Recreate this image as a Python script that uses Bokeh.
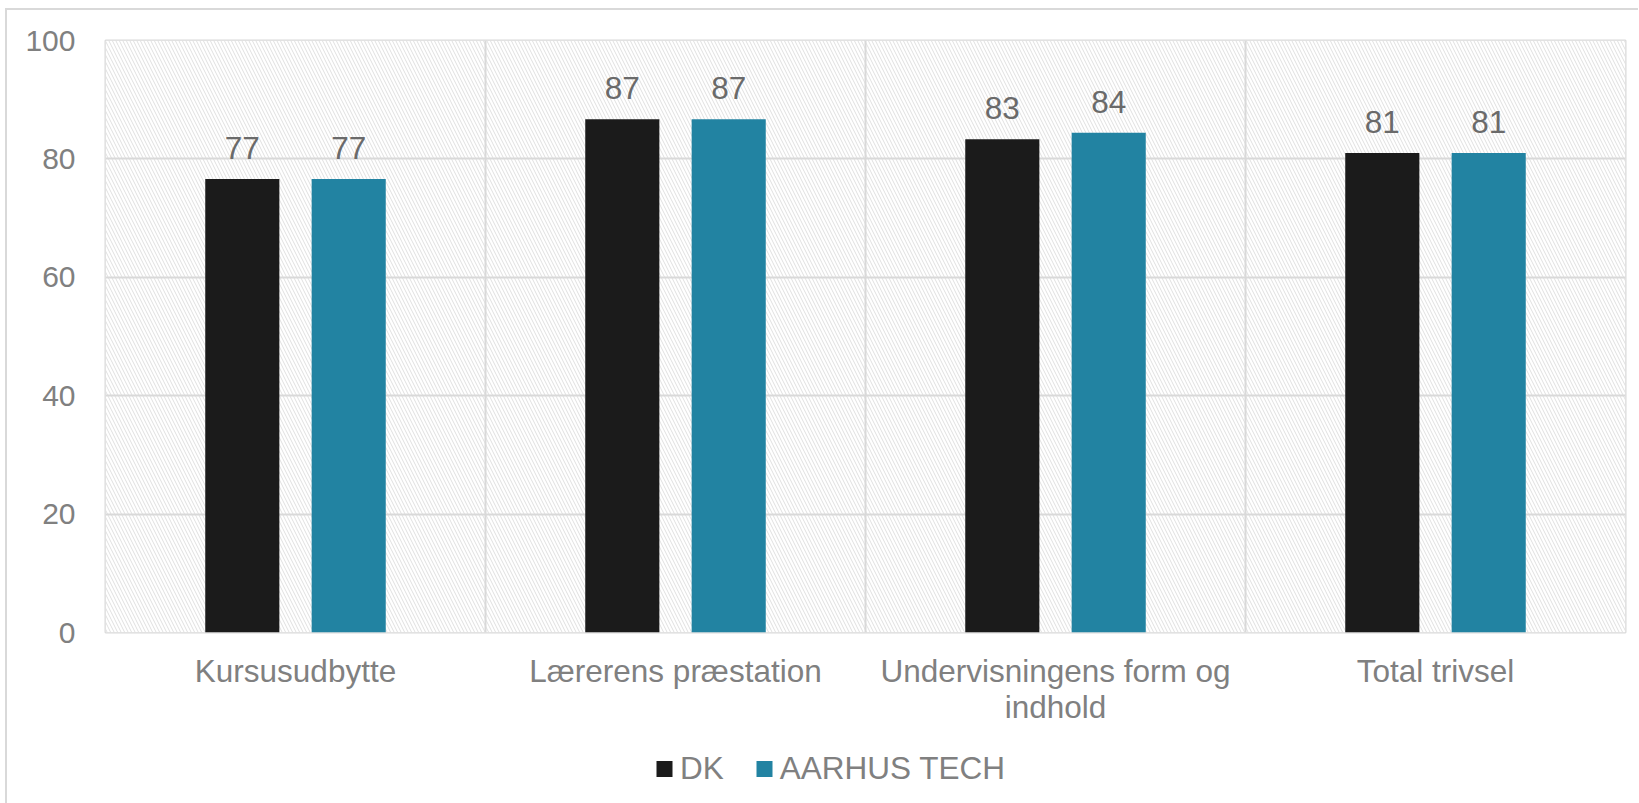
from bokeh.plotting import figure
from bokeh.layouts import column
from bokeh.models import (ColumnDataSource, FactorRange, Range1d, FixedTicker, Span,
                          BoxAnnotation, Legend, LegendItem)
from bokeh.transform import dodge
from bokeh.core.properties import value
from bokeh.embed import file_html
from bokeh.resources import INLINE

categories = ["Kursusudbytte", "Lærerens præstation", "Undervisningens form og\nindhold", "Total trivsel"]
series_names = ["DK", "AARHUS TECH"]
dk_values = [76.6, 86.7, 83.3, 81.0]
aarhus_values = [76.6, 86.7, 84.4, 81.0]
dk_labels = ["77", "87", "83", "81"]
aarhus_labels = ["77", "87", "84", "81"]
y_ticks = [0, 20, 40, 60, 80, 100]

FONT = "Liberation Sans"
DK_COLOR = "#1b1b1b"
AT_COLOR = "#2283a2"
GRID = "#d9d9d9"

source = ColumnDataSource(data=dict(
    cat=categories, dk=dk_values, at=aarhus_values,
    dk_lab=dk_labels, at_lab=aarhus_labels,
))

x_range = FactorRange(*categories, range_padding=0)

p = figure(width=1631, height=732, output_backend="svg", toolbar_location=None,
           x_range=x_range, y_range=Range1d(0, 100),
           min_border_left=98, min_border_right=13, min_border_top=30, min_border_bottom=110)

p.outline_line_color = GRID
p.outline_line_width = 2
p.background_fill_color = "white"
p.border_fill_color = "white"

# hatched plot area
p.add_layout(BoxAnnotation(fill_color="white", fill_alpha=1.0, line_color=None,
                           hatch_pattern="\\", hatch_color="#e0e0e0", hatch_scale=7,
                           hatch_weight=1, level="image"))

# category separators
for i in range(1, len(categories)):
    p.add_layout(Span(location=i, dimension="height", line_color=GRID, line_width=2, level="underlay"))

off = 0.14
bw = 0.195
p.vbar(x=dodge("cat", -off, range=x_range), top="dk", width=bw, bottom=0,
       source=source, fill_color=DK_COLOR, line_color=None)
p.vbar(x=dodge("cat", off, range=x_range), top="at", width=bw, bottom=0,
       source=source, fill_color=AT_COLOR, line_color=None)

p.text(x=dodge("cat", -off, range=x_range), y="dk", text="dk_lab", source=source,
       text_align="center", text_baseline="alphabetic", y_offset=-31,
       text_font=value(FONT), text_font_size="31.5px", text_color="#6a6a6a")
p.text(x=dodge("cat", off, range=x_range), y="at", text="at_lab", source=source,
       text_align="center", text_baseline="alphabetic", y_offset=-31,
       text_font=value(FONT), text_font_size="31.5px", text_color="#6a6a6a")

p.xgrid.grid_line_color = None
p.ygrid.ticker = FixedTicker(ticks=y_ticks)
p.ygrid.grid_line_color = GRID
p.ygrid.grid_line_width = 2

p.yaxis.ticker = FixedTicker(ticks=y_ticks)
for ax in (p.xaxis, p.yaxis):
    ax.axis_line_color = None
    ax.major_tick_line_color = None
    ax.minor_tick_line_color = None
    ax.major_tick_out = 0
    ax.major_tick_in = 0
    ax.major_label_text_font = FONT
    ax.major_label_text_color = "#808080"
p.yaxis.major_label_text_font_size = "30px"
p.yaxis.major_label_standoff = 30
p.xaxis.major_label_text_font_size = "31.5px"
p.xaxis.major_label_text_line_height = 1.0
p.xaxis.major_label_standoff = 20

# legend strip below the chart (its renderers are hidden; only the legend shows)
p2 = figure(width=1631, height=61, output_backend="svg", toolbar_location=None,
            x_range=x_range, y_range=Range1d(200, 300),
            x_axis_location=None, y_axis_location=None,
            min_border_left=98, min_border_right=13, min_border_top=0, min_border_bottom=9)
p2.outline_line_color = None
p2.grid.visible = False
p2.background_fill_color = "white"
p2.border_fill_color = "white"
l1 = p2.vbar(x=dodge("cat", -off, range=x_range), top="dk", width=bw, bottom=0,
             source=source, fill_color=DK_COLOR, line_color=None, visible=False)
l2 = p2.vbar(x=dodge("cat", off, range=x_range), top="at", width=bw, bottom=0,
             source=source, fill_color=AT_COLOR, line_color=None, visible=False)
legend = Legend(items=[LegendItem(label=series_names[0], renderers=[l1]),
                       LegendItem(label=series_names[1], renderers=[l2])],
                location="center_left", orientation="horizontal",
                label_text_font=FONT, label_text_font_size="31.5px", label_text_color="#808080",
                glyph_width=20, glyph_height=20, label_standoff=6, spacing=30,
                inactive_fill_alpha=0,
                padding=0, margin=549, border_line_color=None, background_fill_alpha=0)
p2.add_layout(legend, "center")

layout = column(p, p2, spacing=0,
                styles={"margin-left": "5px", "margin-top": "8px",
                        "border-left": "2px solid #d9d9d9", "border-top": "2px solid #d9d9d9"})

open("out.html", "w").write(file_html(layout, INLINE))
